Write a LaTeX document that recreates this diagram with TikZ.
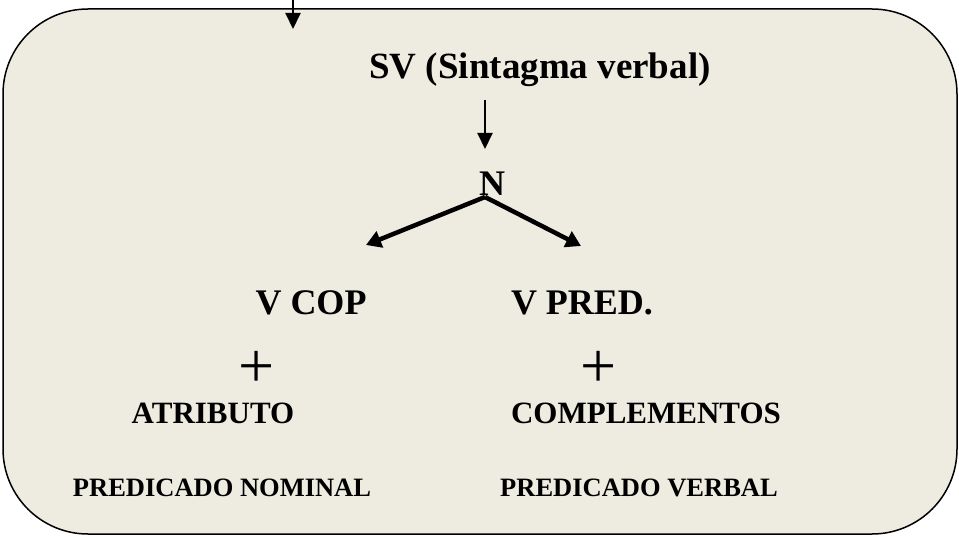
\documentclass[tikz,border=0pt]{standalone}
\usepackage{fontspec}
\setmainfont{Liberation Serif}
\usetikzlibrary{arrows.meta}
\definecolor{boxfill}{HTML}{EEECE1}
\begin{document}
\begin{tikzpicture}[x=1pt,y=-1pt,
  lbl/.style={anchor=base,inner sep=0pt,font=\bfseries},
  thin arrow/.style={line width=2pt,-{Triangle[width=15pt,length=16pt]}},
  thick arrow/.style={line width=4.5pt,-{Triangle[width=17pt,length=15pt]}},
  plus/.style={anchor=center,inner sep=0pt,font=\fontsize{64}{68}\selectfont}]
\useasboundingbox (0,0) rectangle (959,537);
\fill[white] (0,0) rectangle (959,537);
\draw[fill=boxfill,line width=1.5pt,rounded corners=85pt] (3,9) rectangle (957,534);
\node[lbl,font=\bfseries\fontsize{37}{40}\selectfont] (sv) at (540,79) {SV (Sintagma verbal)};
\node[lbl,font=\bfseries\fontsize{36}{40}\selectfont] (n) at (492,196) {N};
\node[lbl,font=\bfseries\fontsize{36}{40}\selectfont] (vcop) at (311,315) {V COP};
\node[lbl,font=\bfseries\fontsize{36}{40}\selectfont] (vpred) at (582,315) {V PRED.};
\node[plus] (p1) at (257,369) {+};
\node[plus] (p2) at (599,369) {+};
\node[lbl,font=\bfseries\fontsize{31}{34}\selectfont] (atr) at (213,424) {ATRIBUTO};
\node[lbl,font=\bfseries\fontsize{31}{34}\selectfont] (comp) at (646,424) {COMPLEMENTOS};
\node[lbl,font=\bfseries\fontsize{26.5}{30}\selectfont] (pn) at (222,496) {PREDICADO NOMINAL};
\node[lbl,font=\bfseries\fontsize{26.5}{30}\selectfont] (pv) at (639,496) {PREDICADO VERBAL};
\coordinate (topstart) at (293,0);
\coordinate (topend) at (293,29);
\coordinate (svout) at (485,100);
\coordinate (nin) at (485,149);
\coordinate (nout) at (485,197);
\coordinate (lefttip) at (366,245);
\coordinate (righttip) at (581,246);
\draw[thin arrow] (topstart) -- (topend);
\draw[thin arrow] (svout) -- (nin);
\draw[thick arrow] (nout) -- (lefttip);
\draw[thick arrow] (nout) -- (righttip);
\end{tikzpicture}
\end{document}
